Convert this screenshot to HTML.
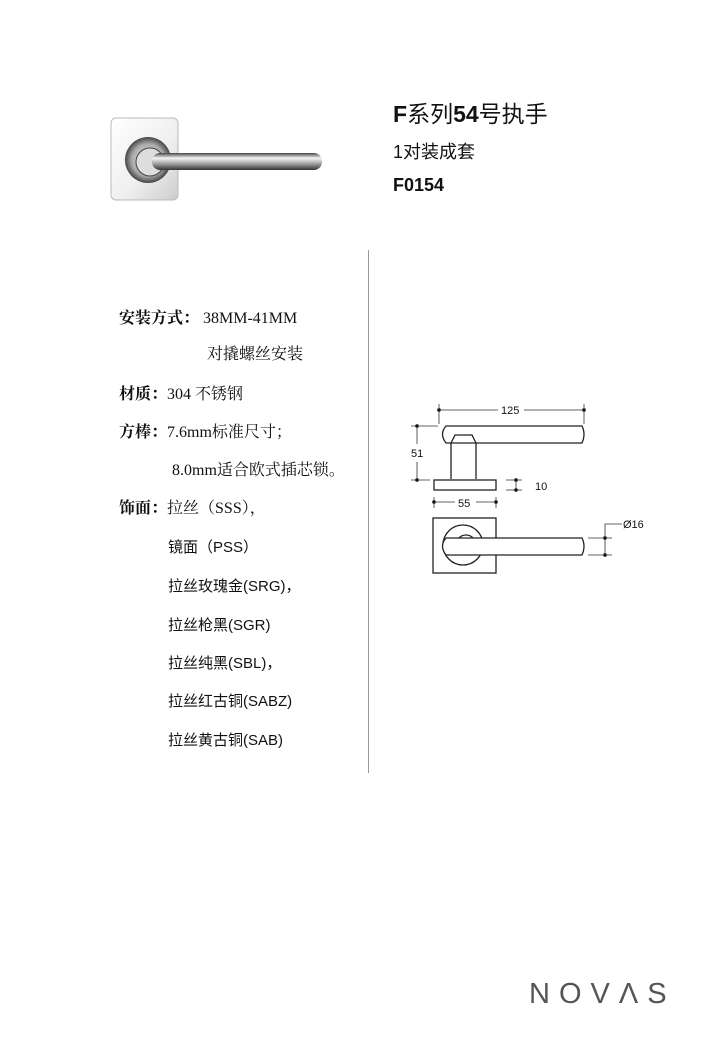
<!DOCTYPE html>
<html><head><meta charset="utf-8"><style>
body{margin:0;width:720px;height:1040px;background:#fff;position:relative;overflow:hidden;font-family:"Liberation Sans","Noto Sans CJK SC",sans-serif;color:#111}
.t{position:absolute;white-space:nowrap;line-height:1}
.s{font-family:"Liberation Serif","Noto Serif CJK SC",serif;font-size:16px}
.b{font-weight:bold}
.r{font-size:15px;font-family:"Liberation Sans","Noto Sans CJK SC",sans-serif}
</style></head><body>
<svg style="position:absolute;left:0;top:0" width="720" height="1040">
<defs>
<linearGradient id="g1" x1="0" y1="0" x2="1" y2="1"><stop offset="0" stop-color="#fff"/><stop offset=".6" stop-color="#eee"/><stop offset="1" stop-color="#ccc"/></linearGradient>
<linearGradient id="g2" x1="0" y1="0" x2="0" y2="1"><stop offset="0" stop-color="#444"/><stop offset=".3" stop-color="#f4f4f4"/><stop offset=".6" stop-color="#aaa"/><stop offset="1" stop-color="#333"/></linearGradient>
<radialGradient id="g3"><stop offset="0" stop-color="#f4f4f4"/><stop offset=".7" stop-color="#aaa"/><stop offset="1" stop-color="#444"/></radialGradient>
</defs>
<rect x="111" y="118" width="67" height="82" rx="5" fill="url(#g1)" stroke="#bbb"/>
<circle cx="148" cy="160" r="23" fill="url(#g3)"/>
<circle cx="150" cy="162" r="14" fill="#ddd" stroke="#444"/>
<rect x="152" y="153" width="170" height="17" rx="8" fill="url(#g2)"/>
<line x1="368.5" y1="250" x2="368.5" y2="773" stroke="#999"/>
<g stroke="#222" fill="none" stroke-width="1.3">
<path d="M446 426 H582 Q586 434 582 443 H446 Q439 434 446 426Z"/>
<path d="M451 479 V443 L455 435 H472 L476 443 V479"/>
<rect x="434" y="480" width="62" height="10"/>
<rect x="433" y="518" width="63" height="55"/>
<circle cx="463" cy="545" r="20"/>
<circle cx="466" cy="545" r="10"/>
<path d="M446 538 H582 Q586 546 582 555 H446 Q439 546 446 538Z" fill="#fff"/>
</g>
<g stroke="#333" stroke-width="0.8" fill="#111">
<line x1="439" y1="410" x2="498" y2="410"/><line x1="524" y1="410" x2="584" y2="410"/>
<line x1="439" y1="404" x2="439" y2="424"/><line x1="584" y1="404" x2="584" y2="424"/>
<circle cx="439" cy="410" r="1.5"/><circle cx="584" cy="410" r="1.5"/>
<line x1="417" y1="426" x2="417" y2="444"/><line x1="417" y1="462" x2="417" y2="480"/>
<line x1="411" y1="426" x2="438" y2="426"/><line x1="411" y1="480" x2="430" y2="480"/>
<circle cx="417" cy="426" r="1.5"/><circle cx="417" cy="480" r="1.5"/>
<line x1="506" y1="480" x2="522" y2="480"/><line x1="506" y1="490" x2="522" y2="490"/>
<line x1="516" y1="480" x2="516" y2="490"/><circle cx="516" cy="480" r="1.5"/><circle cx="516" cy="490" r="1.5"/>
<line x1="434" y1="502" x2="455" y2="502"/><line x1="476" y1="502" x2="496" y2="502"/>
<line x1="434" y1="497" x2="434" y2="508"/><line x1="496" y1="497" x2="496" y2="508"/>
<circle cx="434" cy="502" r="1.5"/><circle cx="496" cy="502" r="1.5"/>
<line x1="588" y1="538" x2="612" y2="538"/><line x1="588" y1="555" x2="612" y2="555"/>
<polyline points="605,555 605,524 622,524" fill="none"/>
<circle cx="605" cy="538" r="1.5"/><circle cx="605" cy="555" r="1.5"/>
</g>
<g font-family="Liberation Sans,sans-serif" font-size="11" fill="#111">
<text x="501" y="414">125</text><text x="411" y="457">51</text><text x="535" y="490">10</text>
<text x="458" y="507">55</text><text x="623" y="528">Ø16</text>
</g>
</svg>
<div class="t" style="left:393px;top:103px;font-size:23px"><b>F</b>系列<b>54</b>号执手</div>
<div class="t" style="left:393px;top:143px;font-size:18px">1对装成套</div>
<div class="t b" style="left:393px;top:176px;font-size:18px">F0154</div>

<div class="t s" style="left:119px;top:311px"><span class="b">安装方式：</span> 38MM-41MM</div>
<div class="t s" style="left:207px;top:347px">对撬螺丝安装</div>
<div class="t s" style="left:119px;top:387px"><span class="b">材质：</span>304 不锈钢</div>
<div class="t s" style="left:119px;top:425px"><span class="b">方棒：</span>7.6mm标准尺寸；</div>
<div class="t s" style="left:172px;top:463px">8.0mm适合欧式插芯锁。</div>
<div class="t s" style="left:119px;top:501px"><span class="b">饰面：</span>拉丝（SSS），</div>
<div class="t r" style="left:168px;top:540px">镜面（PSS）</div>
<div class="t r" style="left:168px;top:579px">拉丝玫瑰金(SRG)，</div>
<div class="t r" style="left:168px;top:618px">拉丝枪黑(SGR)</div>
<div class="t r" style="left:168px;top:656px">拉丝纯黑(SBL)，</div>
<div class="t r" style="left:168px;top:694px">拉丝红古铜(SABZ)</div>
<div class="t r" style="left:168px;top:733px">拉丝黄古铜(SAB)</div>

<div class="t" style="left:529px;top:980px;font-size:29px;letter-spacing:9px;color:#555">NOVΛS</div>
</body></html>
